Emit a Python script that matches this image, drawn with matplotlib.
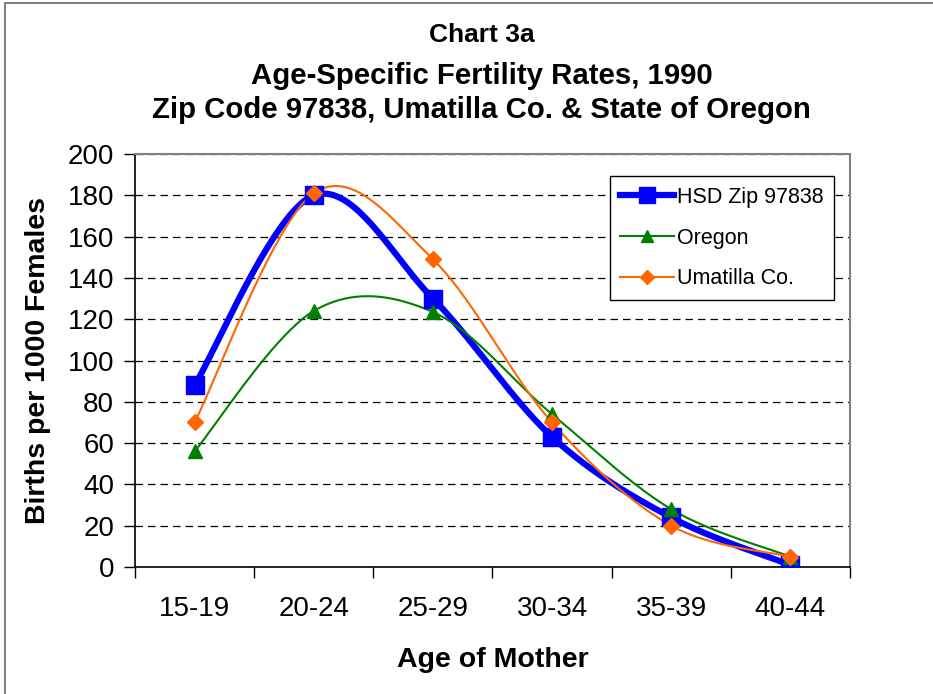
import numpy as np
import matplotlib.pyplot as plt
from matplotlib.patches import Rectangle

plt.rcParams['font.family'] = ['Liberation Sans', 'DejaVu Sans']

# data
ages = ['15-19', '20-24', '25-29', '30-34', '35-39', '40-44']
hsd = [88, 180, 130, 63, 24, 1]
oregon = [56, 124, 123.5, 74, 28, 5]
umatilla = [70, 181, 149, 70, 20, 5]


def smooth(xs, ys, n=40):
    # Excel-style smoothed line: Catmull-Rom through the points as cubic Beziers
    xs = np.asarray(xs, float)
    ys = np.asarray(ys, float)
    px = np.concatenate([[xs[0]], xs, [xs[-1]]])
    py = np.concatenate([[ys[0]], ys, [ys[-1]]])
    t = np.linspace(0, 1, n)
    outx, outy = [], []
    for i in range(1, len(px) - 2):
        p0 = np.array([px[i], py[i]])
        p3 = np.array([px[i + 1], py[i + 1]])
        c1 = p0 + (np.array([px[i + 1], py[i + 1]]) - np.array([px[i - 1], py[i - 1]])) / 6
        c2 = p3 - (np.array([px[i + 2], py[i + 2]]) - np.array([px[i], py[i]])) / 6
        pts = ((1 - t) ** 3)[:, None] * p0 + (3 * (1 - t) ** 2 * t)[:, None] * c1 \
            + (3 * (1 - t) * t ** 2)[:, None] * c2 + (t ** 3)[:, None] * p3
        outx.extend(pts[:, 0])
        outy.extend(pts[:, 1])
    return outx, outy


fig = plt.figure(figsize=(9.33, 6.94), dpi=100)
fig.patches.append(Rectangle((5 / 933, -0.01), 1.1, 1 - 3 / 694 + 0.01,
                             transform=fig.transFigure, fill=False,
                             edgecolor='#808080', linewidth=1.5))

ax = fig.add_axes([0.1447, 0.183, 0.7663, 0.595])
x = np.arange(len(ages))

series = [
    (hsd, 'HSD Zip 97838', '#0000FF', 4.5, 's', 13),
    (oregon, 'Oregon', '#008000', 1.5, '^', 10),
    (umatilla, 'Umatilla Co.', '#FF6600', 1.5, 'D', 8),
]
for vals, name, col, lw, mk, ms in series:
    sx, sy = smooth(x, vals)
    ax.plot(sx, sy, color=col, linewidth=lw, zorder=3)
    ax.plot(x, vals, linestyle='none', marker=mk, markersize=ms, color=col, zorder=4)
    ax.plot([], [], color=col, linewidth=lw, marker=mk, markersize=ms * 0.85, label=name)

ax.set_xlim(-0.5, len(ages) - 0.5)
ax.set_ylim(0, 200)
ax.set_yticks(np.arange(0, 201, 20))
ax.yaxis.grid(True, linestyle=(0, (6, 4)), color='black', linewidth=0.9)
ax.set_axisbelow(True)

ax.set_xticks(x)
ax.set_xticklabels(ages, fontsize=20)
ax.set_xticks(np.arange(-0.5, len(ages), 1), minor=True)
ax.tick_params(axis='x', which='major', length=0, pad=21)
ax.tick_params(axis='x', which='minor', length=8, width=1, direction='out')
ax.tick_params(axis='y', labelsize=20, length=8, width=1, direction='out', pad=7)

for side in ['top', 'right']:
    ax.spines[side].set_color('#808080')
    ax.spines[side].set_linewidth(1.5)
for side in ['left', 'bottom']:
    ax.spines[side].set_color('black')
    ax.spines[side].set_linewidth(1.2)

ax.set_xlabel('Age of Mother', fontsize=20.5, fontweight='bold', labelpad=18)
ax.set_ylabel('Births per 1000 Females', fontsize=20.5, fontweight='bold', labelpad=12)

fig.text(0.516, 0.949, 'Chart 3a', ha='center', va='center', fontsize=19, fontweight='bold')
fig.text(0.516, 0.891, 'Age-Specific Fertility Rates, 1990', ha='center', va='center',
         fontsize=21.2, fontweight='bold')
fig.text(0.516, 0.842, 'Zip Code 97838, Umatilla Co. & State of Oregon', ha='center',
         va='center', fontsize=21.2, fontweight='bold')

leg = ax.legend(loc='upper right', bbox_to_anchor=(0.978, 0.947), borderaxespad=0,
                fontsize=15.5, frameon=True, fancybox=False, edgecolor='black',
                framealpha=1, handlelength=2.5, handletextpad=0.12, borderpad=0.5,
                labelspacing=0.92)
leg.get_frame().set_linewidth(1)

fig.savefig('out.png', dpi=100)
